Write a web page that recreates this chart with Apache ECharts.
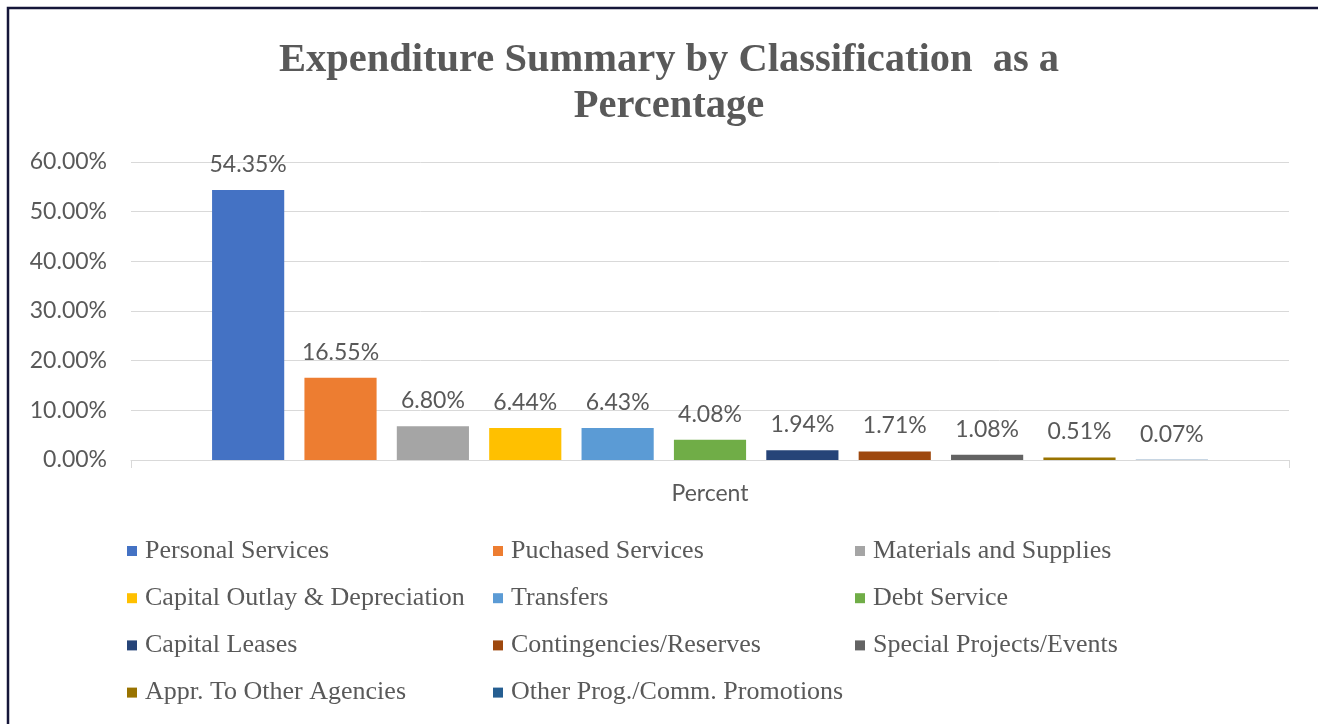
<!DOCTYPE html>
<html>
<head>
<meta charset="utf-8">
<script src="https://cdn.jsdelivr.net/npm/echarts@6/dist/echarts.min.js"></script>
<style>
html,body{margin:0;padding:0;background:#fff;}
#chart{width:1318px;height:724px;}
</style>
</head>
<body>
<div id="chart"></div>
<script>
const categories = ['Percent'];
const seriesNames = ['Personal Services','Puchased Services','Materials and Supplies','Capital Outlay & Depreciation','Transfers','Debt Service','Capital Leases','Contingencies/Reserves','Special Projects/Events','Appr. To Other Agencies','Other Prog./Comm. Promotions'];
const seriesValues = [54.35, 16.55, 6.80, 6.44, 6.43, 4.08, 1.94, 1.71, 1.08, 0.51, 0.07];
const seriesColors = ['#4472C4','#ED7D31','#A5A5A5','#FFC000','#5B9BD5','#70AD47','#264478','#9E480E','#636363','#997300','#255E91'];
const yTicks = {min:0, max:60, interval:10};

const legendCols = [
  [0,3,6,9],
  [1,4,7,10],
  [2,5,8]
];
const legendX = [122, 488, 850];

const chart = echarts.init(document.getElementById('chart'));
const serif = '"Liberation Serif","Times New Roman",serif';
const sans = 'Lato, "Open Sans", sans-serif';

const option = {
  animation:false,
  backgroundColor:'#ffffff',
  title:{
    text:'Expenditure Summary by Classification  as a\nPercentage',
    left:664, top:33, textAlign:'center',
    textStyle:{fontFamily:serif, fontWeight:'bold', fontSize:40.5, color:'#595959', lineHeight:46}
  },
  graphic:[{
    type:'polyline', silent:true,
    shape:{points:[[8,730],[8,8],[1330,8]]},
    style:{stroke:'#15163a', lineWidth:2.5, fill:null}
  }],
  legend: legendCols.map((idx,i)=>({
    orient:'vertical', left:legendX[i], top:533,
    data: idx.map(k=>seriesNames[k]),
    icon:'rect', itemWidth:10, itemHeight:10, itemGap:21.2, selectedMode:false,
    textStyle:{fontFamily:serif, fontSize:26, color:'#595959', lineHeight:24, padding:[0,0,0,3]}
  })),
  grid:{left:131, right:29, top:162, bottom:264, containLabel:false},
  xAxis:{
    type:'category', data:categories,
    axisLine:{lineStyle:{color:'#d9d9d9', width:1}},
    axisTick:{show:true, length:8, lineStyle:{color:'#d9d9d9'}},
    axisLabel:{fontFamily:sans, fontSize:23, color:'#595959', margin:22}
  },
  yAxis:{
    type:'value', min:yTicks.min, max:yTicks.max, interval:yTicks.interval,
    axisLine:{show:false}, axisTick:{show:false},
    splitLine:{lineStyle:{color:'#d9d9d9', width:1}},
    axisLabel:{fontFamily:sans, fontSize:23, color:'#595959', margin:24,
      formatter:v=>v.toFixed(2)+'%'}
  },
  series: seriesNames.map((name,i)=>({
    name:name, type:'bar', data:[seriesValues[i]],
    barCategoryGap:'14%', barGap:'28%',
    itemStyle:{color:seriesColors[i]},
    label:{show:true, position:'top', distance:14, fontFamily:sans, fontSize:23, color:'#595959',
      formatter:p=>p.value.toFixed(2)+'%'}
  }))
};
chart.setOption(option);
</script>
</body>
</html>
